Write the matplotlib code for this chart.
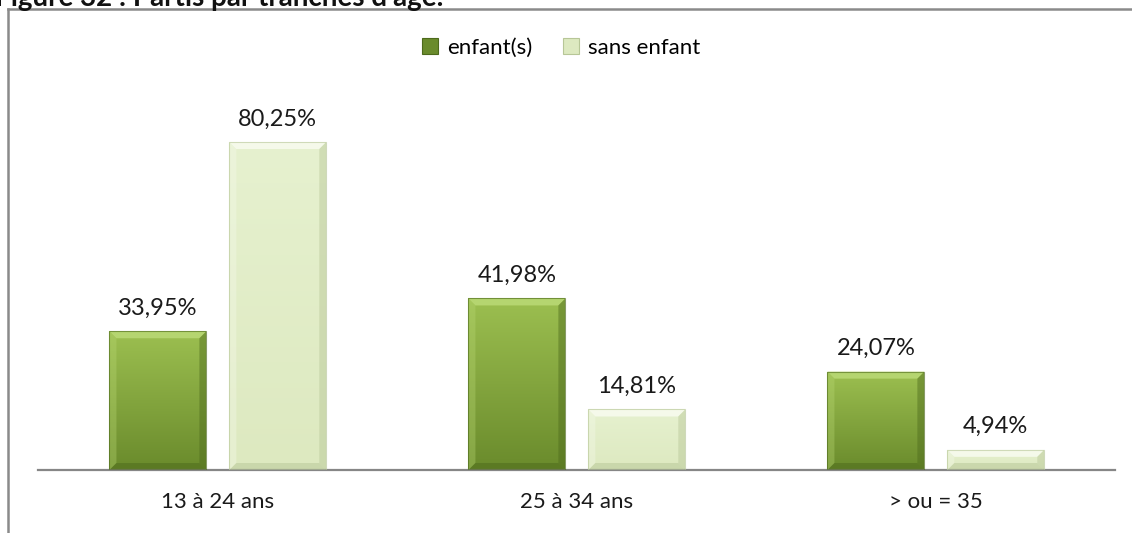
import matplotlib
matplotlib.use("Agg")
import matplotlib.pyplot as plt
import numpy as np
from matplotlib.patches import Rectangle, Polygon
from matplotlib.lines import Line2D

categories = ["13 à 24 ans", "25 à 34 ans", "> ou = 35"]
series_names = ["enfant(s)", "sans enfant"]
enfants = [33.95, 41.98, 24.07]
sans_enfant = [80.25, 14.81, 4.94]
title = "Figure 32 : Partis par tranches d'âge."

plt.rcParams["font.family"] = ["Lato", "DejaVu Sans"]

W, H = 1132, 533
fig = plt.figure(figsize=(W / 100, H / 100), dpi=100)
ax = fig.add_axes([38 / W, 63 / H, 1077 / W, 408.7 / H])
ax.set_xlim(-0.5, 2.5)
ax.set_ylim(0, 100)

# colour sets: (top, bottom, light facet, dark facet)
styles = [
    ("#9cbf50", "#6a8b2c", "#b9d874", "#4d6a1c"),
    ("#e6f1cf", "#dde9c0", "#f7fbee", "#b7c697"),
]

x = np.arange(len(categories))
width = 0.27
offsets = [-0.166, 0.168]
bev_px = 7

def bevel_bar(rect, st):
    x0, y0 = rect.get_x(), rect.get_y()
    w, h = rect.get_width(), rect.get_height()
    top, bot, lite, dark = st
    # vertical gradient for the face
    grad = np.linspace(0, 1, 64).reshape(-1, 1)
    c1 = np.array(matplotlib.colors.to_rgb(top))
    c2 = np.array(matplotlib.colors.to_rgb(bot))
    img = c1 + (c2 - c1) * grad[..., None]
    img = np.repeat(img, 2, axis=1)
    im = ax.imshow(img, extent=(x0, x0 + w, y0, y0 + h), origin="upper",
                   aspect="auto", zorder=2)
    im.set_clip_path(rect)
    # facets
    bx = bev_px * 3 / 1077
    by = min(bev_px * 100 / 408.7, h / 2)
    bx = min(bx, w / 2)
    x1, y1 = x0 + w, y0 + h
    facets = [
        ([(x0, y1), (x1, y1), (x1 - bx, y1 - by), (x0 + bx, y1 - by)], lite, 0.9),
        ([(x0, y0), (x0, y1), (x0 + bx, y1 - by), (x0 + bx, y0 + by)], lite, 0.35),
        ([(x1, y0), (x1, y1), (x1 - bx, y1 - by), (x1 - bx, y0 + by)], dark, 0.45),
        ([(x0, y0), (x1, y0), (x1 - bx, y0 + by), (x0 + bx, y0 + by)], dark, 0.5),
    ]
    for pts, col, a in facets:
        ax.add_patch(Polygon(pts, closed=True, facecolor=col, edgecolor="none",
                             alpha=a, zorder=3))
    ax.add_patch(Rectangle((x0, y0), w, h, fill=False, edgecolor=dark,
                           linewidth=0.8, alpha=0.6, zorder=4))

for vals, off, st in zip([enfants, sans_enfant], offsets, styles):
    bars = ax.bar(x + off, vals, width, color="none", edgecolor="none", zorder=1)
    for rect, v in zip(bars, vals):
        bevel_bar(rect, st)
        ax.annotate(f"{v:.2f}%".replace(".", ","), (rect.get_x() + width / 2, v),
                    xytext=(0, 12), textcoords="offset points", ha="center",
                    va="baseline", fontsize=17, color="#1a1a1a")

for s in ["top", "right", "left"]:
    ax.spines[s].set_visible(False)
ax.spines["bottom"].set_color("#868686")
ax.spines["bottom"].set_linewidth(1.6)
ax.set_yticks([])
ax.set_xticks(x)
ax.set_xticklabels(categories, fontsize=16, color="#1a1a1a")
ax.tick_params(axis="x", length=0, pad=16)

# legend with small square keys
handles = [Rectangle((0, 0), 1, 1, facecolor=st[1], edgecolor=st[3], linewidth=0.8)
           for st in styles]
fig.legend(handles, series_names, loc="center", bbox_to_anchor=(561 / W, 1 - 48 / H),
           ncol=2, frameon=False, fontsize=16, handlelength=0.7, handleheight=0.7,
           handletextpad=0.4, columnspacing=1.4)

# chart frame (left and top edges) and clipped caption
fig.add_artist(Line2D([8 / W, 8 / W], [0, 1 - 9 / H], color="#8a8a8a", linewidth=1.8,
                      transform=fig.transFigure))
fig.add_artist(Line2D([8 / W, 1], [1 - 9 / H, 1 - 9 / H], color="#8a8a8a", linewidth=1.8,
                      transform=fig.transFigure))
fig.text(-0.004, 1 - 6 / H, title, fontsize=20, fontweight="bold", va="baseline",
         ha="left", color="#111111")

fig.savefig("out.png", dpi=100)
